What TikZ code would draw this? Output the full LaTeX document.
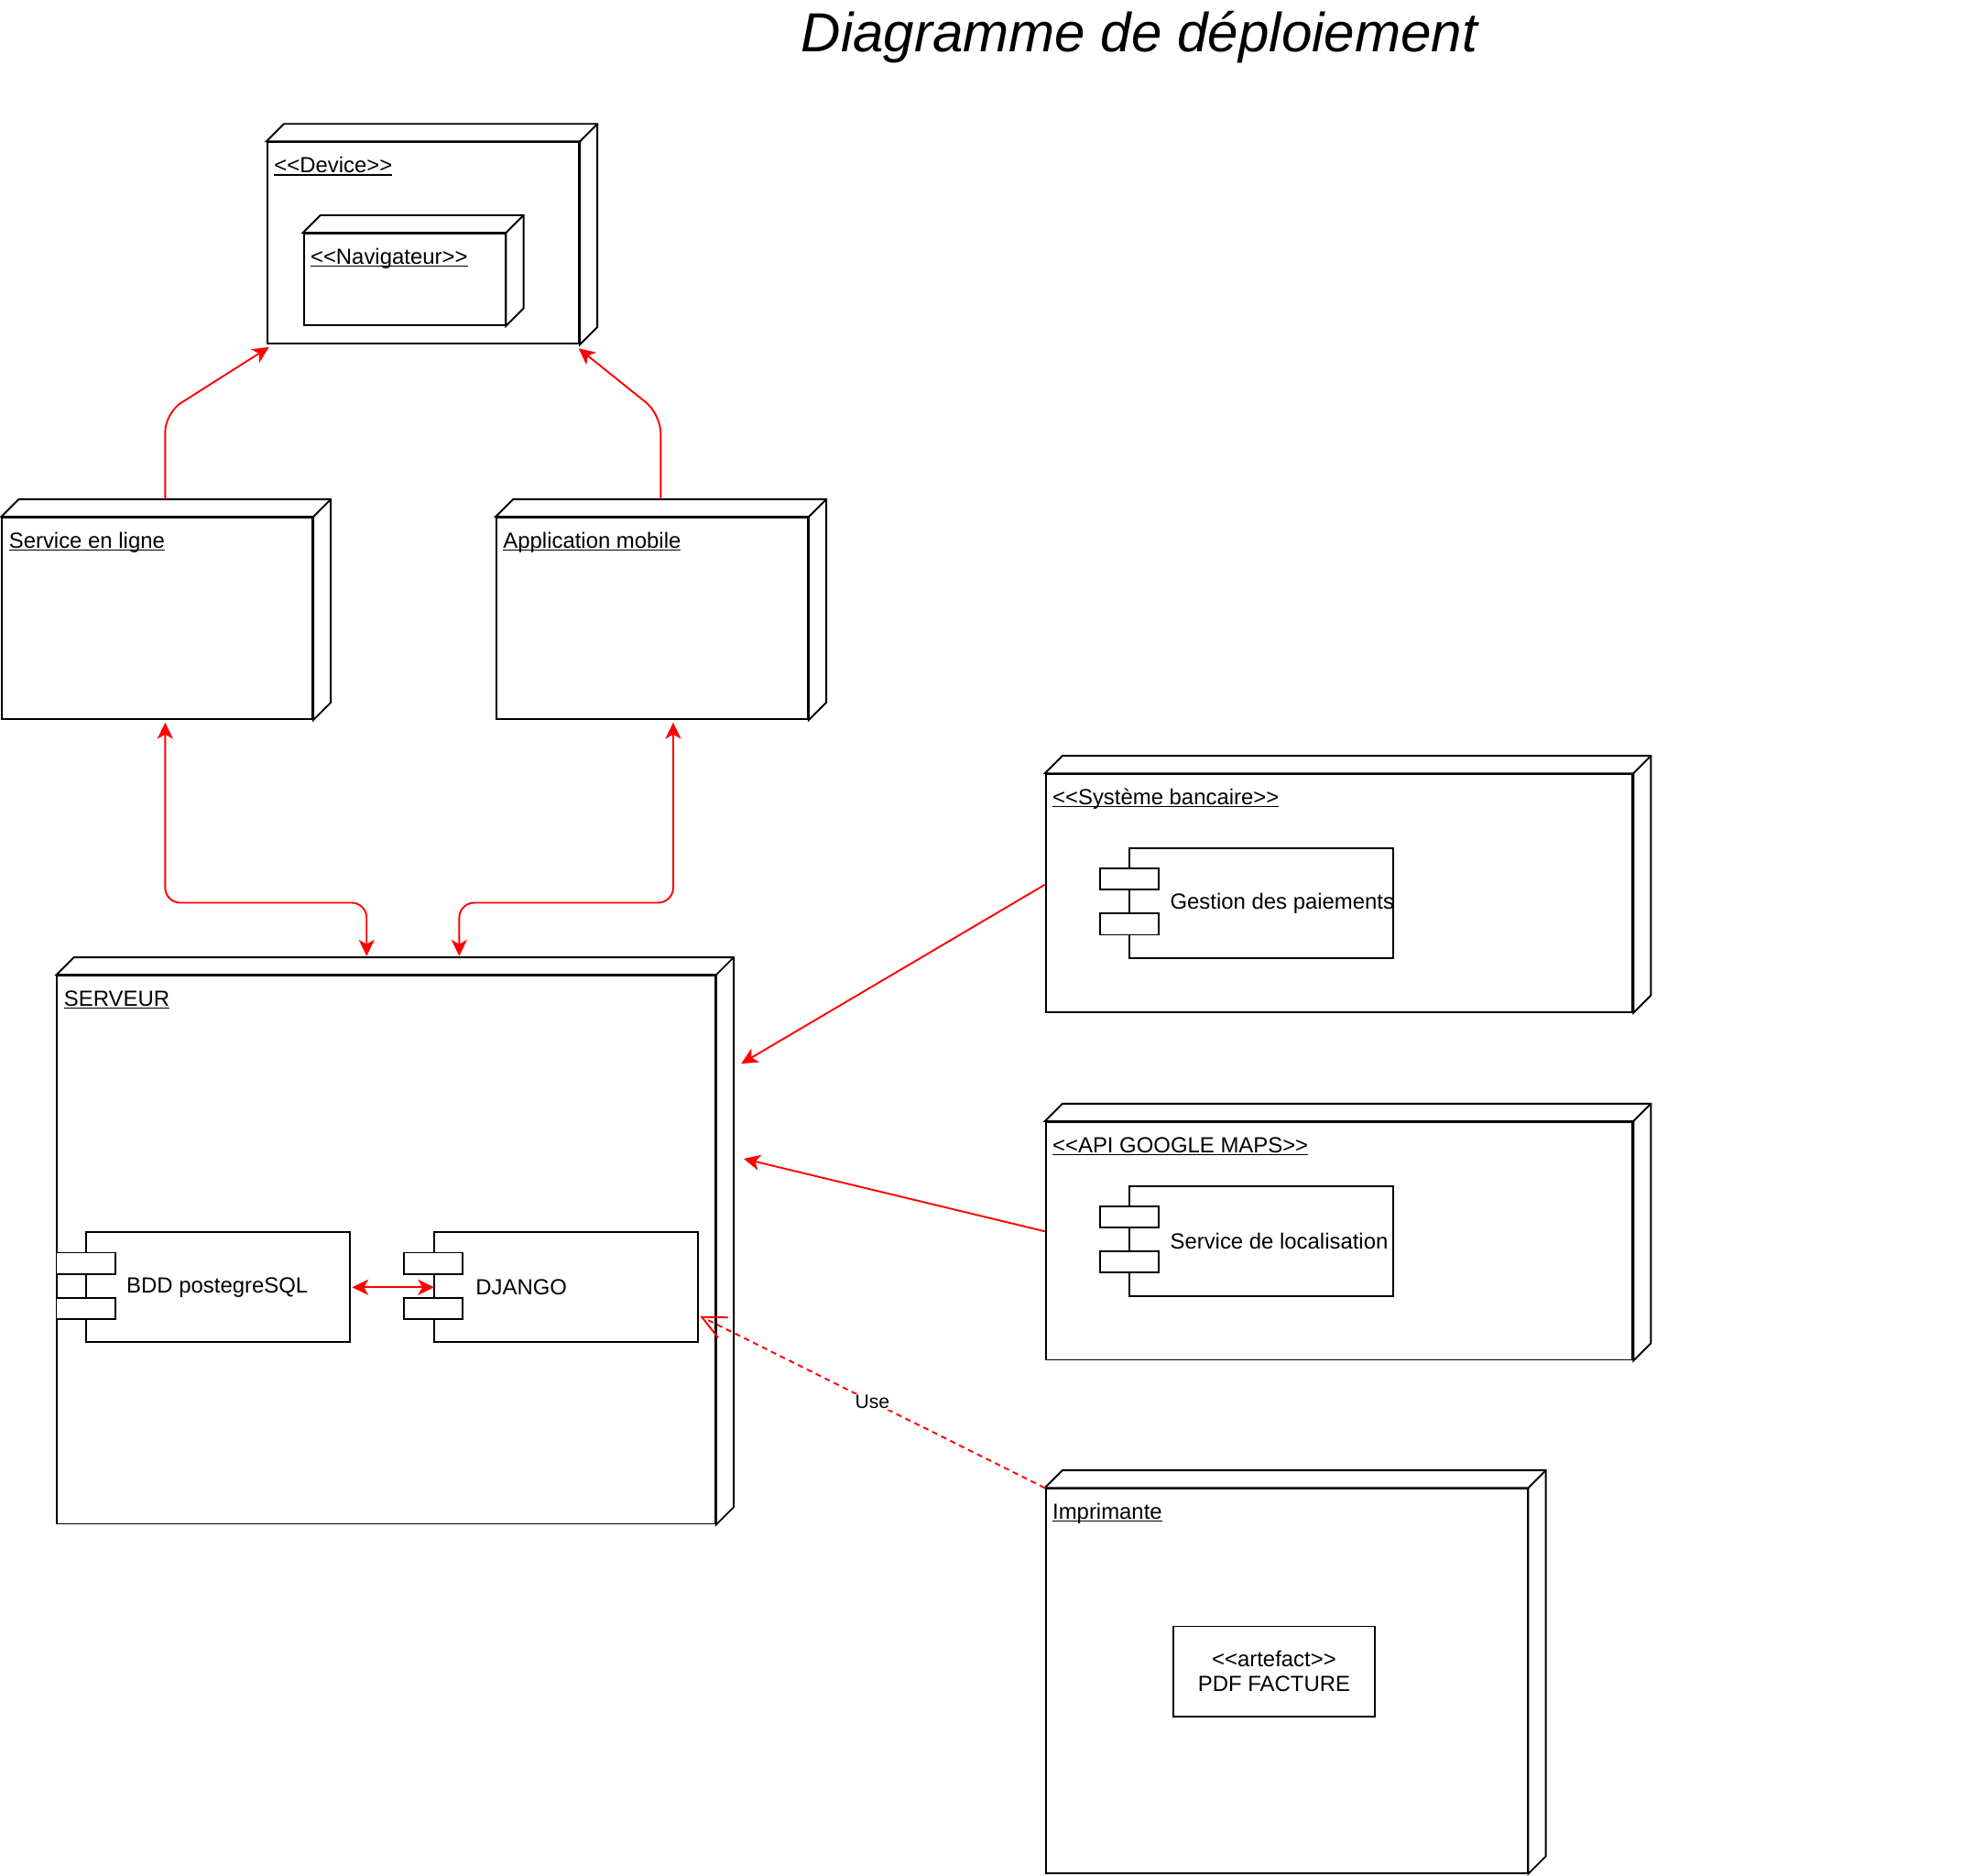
\documentclass[tikz,border=0pt]{standalone}
\usepackage{fontspec}
\newfontfamily\hv{Liberation Sans}
\usetikzlibrary{arrows.meta,calc}
\newcommand\ulbl[1]{\setbox0\hbox{#1}\rlap{\rule[-2.2pt]{\wd0}{1.1pt}}\box0}
\newcommand\nodeback[1]{%
  \draw[line width=1.4pt, line join=miter, fill=white] (#1.north west) -- ++(14,-14) -- ($(#1.north east)+(14,-14)$) -- ($(#1.south east)+(14,-14)$) -- (#1.south east) -- (#1.north east) -- cycle;
  \draw[line width=1.4pt] (#1.north east) -- ++(14,-14);}
\newcommand\ports[1]{%
  \draw[line width=1.4pt, fill=white] ($(#1.north west)+(-23,17)$) rectangle ++(47,17);
  \draw[line width=1.4pt, fill=white] ($(#1.north west)+(-23,53)$) rectangle ++(47,17);}
\tikzset{
  dnode/.style={draw=black, line width=1.4pt, fill=white, rectangle, anchor=north west, inner sep=0pt},
  comp/.style={draw=black, line width=1.4pt, fill=white, rectangle, anchor=north west, inner sep=0pt, minimum width=211pt, minimum height=88pt},
  lbl/.style={font=\hv\fontsize{17.5}{20}\selectfont, inner sep=0pt, anchor=base west},
  conn/.style={draw=red, line width=1.4pt},
  tipf/.style={-{Stealth[length=13pt,width=12.5pt,inset=3.5pt]}},
  tipb/.style={{Stealth[length=13pt,width=12.5pt,inset=3.5pt]}-{Stealth[length=13pt,width=12.5pt,inset=3.5pt]}},
}
\begin{document}
\begin{tikzpicture}[x=1pt,y=-1pt]
\useasboundingbox (0,0) rectangle (1568,1499);
\fill[white] (0,0) rectangle (1568,1499);

% title
\node[font=\hv\itshape\fontsize{44}{50}\selectfont, inner sep=0pt, anchor=base] (title) at (910.5,41.5) {Diagramme de déploiement};

% Device
\node[dnode, minimum width=249pt, minimum height=161pt] (dev) at (213,113) {};
\nodeback{dev}
\node[lbl] (devl) at (219,138) {\ulbl{<<Device>>}};
\node[dnode, minimum width=161pt, minimum height=73pt] (nav) at (242,186) {};
\nodeback{nav}
\node[lbl] (navl) at (248,211) {\ulbl{<<Navigateur>>}};

% Service en ligne / Application mobile
\node[dnode, minimum width=248pt, minimum height=161pt] (svc) at (1,413) {};
\nodeback{svc}
\node[lbl] (svcl) at (7,438) {\ulbl{Service en ligne}};
\node[dnode, minimum width=249pt, minimum height=161pt] (app) at (396,413) {};
\nodeback{app}
\node[lbl] (appl) at (402,438) {\ulbl{Application mobile}};

% Systeme bancaire
\node[dnode, minimum width=469pt, minimum height=190pt] (bank) at (835,618) {};
\nodeback{bank}
\node[lbl] (bankl) at (841,643) {\ulbl{<<Système bancaire>>}};
\node[comp] (pay) at (902,677) {};
\ports{pay}
\node[lbl, anchor=west] (payl) at ($(pay.west)+(33,0)$) {Gestion des paiements};

% API Google Maps
\node[dnode, minimum width=469pt, minimum height=190pt] (gmap) at (835,896) {};
\nodeback{gmap}
\node[lbl] (gmapl) at (841,921) {\ulbl{<<API GOOGLE MAPS>>}};
\node[comp] (loc) at (902,947) {};
\ports{loc}
\node[lbl, anchor=west] (locl) at ($(loc.west)+(33,0)$) {Service de localisation};

% Imprimante
\node[dnode, minimum width=385pt, minimum height=307pt] (imp) at (835,1189) {};
\nodeback{imp}
\node[lbl] (impl) at (841,1214) {\ulbl{Imprimante}};
\node[dnode, minimum width=161pt, minimum height=72pt] (art) at (937,1299) {};
\node[font=\hv\fontsize{17.5}{20}\selectfont, align=center, inner sep=0pt] (artl) at (art.center) {<<artefact>>\\PDF FACTURE};

% Serveur
\node[dnode, minimum width=526pt, minimum height=438pt] (srv) at (45,779) {};
\nodeback{srv}
\node[lbl] (srvl) at (51,804) {\ulbl{SERVEUR}};
\node[comp] (bdd) at (68,984) {};
\ports{bdd}
\node[lbl, anchor=west] (bddl) at ($(bdd.west)+(33,0)$) {BDD postegreSQL};
\node[comp] (dj) at (346,984) {};
\ports{dj}
\node[lbl, anchor=west] (djl) at ($(dj.west)+(34,0)$) {DJANGO};

% connectors
\draw[conn, tipf, rounded corners=15pt] ($(svc.north west)+(131,-14)$) -- ++(0,-69) -- ($(dev.south west)+(2,2)$);
\draw[conn, tipf, rounded corners=15pt] ($(app.north west)+(132,-14)$) -- ++(0,-68) -- ($(dev.south east)+(-1,3)$);
\draw[conn, tipb, rounded corners=12pt] ($(svc.south west)+(131,2)$) -- ++(0,144) -| ($(srv.north west)+(248,-15)$);
\draw[conn, tipb, rounded corners=12pt] ($(app.south west)+(142,2)$) -- ++(0,144) -| ($(srv.north west)+(322,-15)$);
\draw[conn, tipf] ($(bank.north west)+(0,89)$) -- ($(srv.north east)+(20,71)$);
\draw[conn, tipf] ($(gmap.north west)+(0,88)$) -- ($(srv.north east)+(22,147)$);
\draw[conn, tipb] ($(bdd.east)+(1,0)$) -- ($(dj.west)+(1,0)$);
\draw[conn, dash pattern=on 4.5pt off 3.5pt, -{Straight Barb[length=19pt,width=18pt]}] (imp.north west) -- node[pos=0.5, fill=white, inner sep=1pt, font=\hv\fontsize{15.5}{18}\selectfont, text=black] (use) {Use} ($(dj.east)+(1,23)$);
\end{tikzpicture}
\end{document}
